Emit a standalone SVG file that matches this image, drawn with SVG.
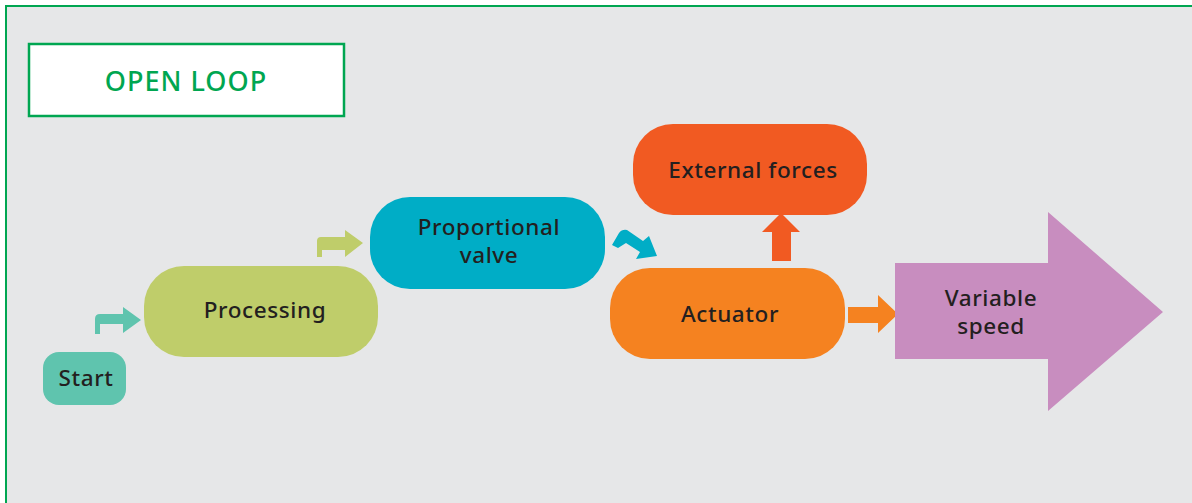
<svg xmlns="http://www.w3.org/2000/svg" width="1192" height="503" viewBox="0 0 1192 503">
<style>
.lbl{font-family:"Noto Sans","Open Sans","Liberation Sans",sans-serif;font-size:22.5px;fill:#231f20;text-anchor:middle;font-weight:500;letter-spacing:0.6px}
.title{font-family:"Noto Sans","Open Sans","Liberation Sans",sans-serif;font-size:27px;fill:#00a651;text-anchor:middle;font-weight:500;letter-spacing:1px}
</style>
<rect x="0" y="0" width="1192" height="503" fill="#ffffff"/>
<rect x="6" y="6" width="1200" height="510" fill="#e6e7e8" stroke="#00a651" stroke-width="2"/>
<g id="title">
<rect x="29" y="44" width="315" height="72" fill="#ffffff" stroke="#00a651" stroke-width="2.5"/>
<text class="title" x="186" y="91">OPEN LOOP</text>
</g>
<g id="connectors">
<path d="M95,334 L95,319 Q95,314 100,314 L123,314 L123,307 L141,320 L123,333 L123,324 L100,324 L100,334 Z" fill="#5fc4ae"/>
<path d="M317,257 L317,241 Q317,237 321,237 L345,237 L345,230 L363,243 L345,257 L345,250 L322,250 L322,257 Z" fill="#bfcd6a"/>
<path d="M612,245 L619,233 Q622,229 627,230 L643,241 L649,236 L657,256 L636,259 L640,252 L626,243 L618,248 Z" fill="#00adc6"/>
<path d="M772,261 L772,232 L762,232 L781,213 L800,232 L791,232 L791,261 Z" fill="#f15a22"/>
<path d="M848,307 L878,307 L878,295 L898,314 L878,333 L878,323 L848,323 Z" fill="#f58220"/>
</g>
<g id="start">
<rect x="43" y="352" width="83" height="53" rx="16" fill="#5fc4ae"/>
<text class="lbl" x="86" y="386">Start</text>
</g>
<g id="processing">
<rect x="144" y="266" width="234" height="91" rx="40" fill="#bfcd6a"/>
<text class="lbl" x="265" y="318">Processing</text>
</g>
<g id="valve">
<rect x="370" y="197" width="235" height="92" rx="40" fill="#00adc6"/>
<text class="lbl" x="489" y="235">Proportional</text>
<text class="lbl" x="489" y="263">valve</text>
</g>
<g id="external">
<rect x="633" y="124" width="234" height="91" rx="40" fill="#f15a22"/>
<text class="lbl" x="753" y="178">External forces</text>
</g>
<g id="actuator">
<rect x="610" y="268" width="235" height="91" rx="40" fill="#f58220"/>
<text class="lbl" x="730" y="322">Actuator</text>
</g>
<g id="speed">
<path d="M895,263 L1048,263 L1048,212 L1163,312 L1048,411 L1048,359 L895,359 Z" fill="#c88dbf"/>
<text class="lbl" x="991" y="306">Variable</text>
<text class="lbl" x="991" y="334">speed</text>
</g>
</svg>
